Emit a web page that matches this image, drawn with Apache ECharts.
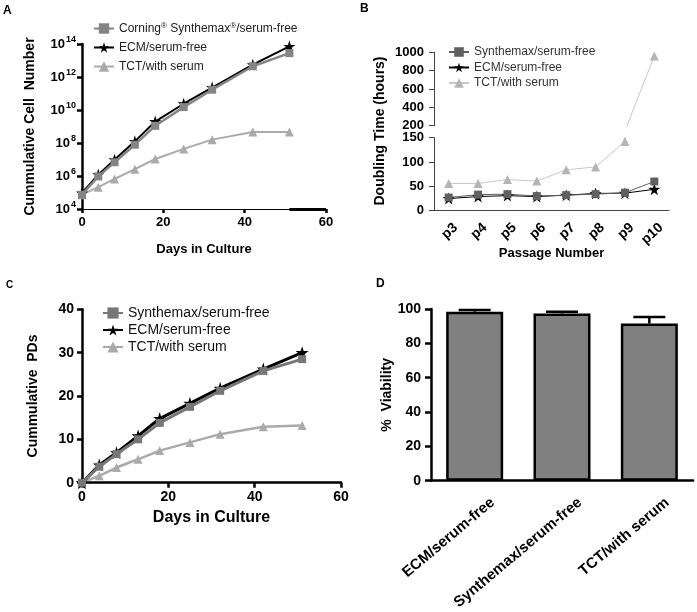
<!DOCTYPE html>
<html><head><meta charset="utf-8">
<script src="https://cdn.jsdelivr.net/npm/echarts@6/dist/echarts.min.js"></script>
<style>html,body{margin:0;padding:0;background:#fff}#c{width:697px;height:612px}</style>
</head><body><div id="c"></div>
<script>
// ---- Panel A: cumulative cell number (log scale) ----
const days = [0, 4, 8, 13, 18, 25, 32, 42, 51];
const cellsSynthemax = [7.4e4, 9.5e5, 6.8e6, 7.9e7, 1.1e9, 1.5e10, 1.7e11, 4.5e12, 2.8e13];
const cellsECM = [9.3e4, 1.2e6, 9.8e6, 1.26e8, 2.0e9, 2.4e10, 2.3e11, 5.6e12, 7.2e13];
const cellsTCT = [7.4e4, 2.1e5, 6.6e5, 2.6e6, 1.07e7, 4.4e7, 1.6e8, 4.7e8, 4.7e8];
// ---- Panel B: doubling time ----
const passages = ['p3', 'p4', 'p5', 'p6', 'p7', 'p8', 'p9', 'p10'];
const dtSynthemax = [27, 33, 34, 30, 32, 34, 37, 60];
const dtECM = [25, 29, 31, 29, 32, 35.5, 36, 44];
const dtTCT = [56, 56, 64, 61, 84, 90, 142, 960];
// ---- Panel C: cumulative population doublings ----
const pdSynthemax = [0, 3.7, 6.6, 10.0, 13.8, 17.5, 21.2, 25.8, 28.5];
const pdECM = [0, 4.1, 6.9, 10.8, 14.8, 18.3, 21.8, 26.2, 30.0];
const pdTCT = [0, 1.6, 3.5, 5.4, 7.4, 9.3, 11.2, 12.9, 13.2];
// ---- Panel D: viability ----
const viabCats = ['ECM/serum-free', 'Synthemax/serum-free', 'TCT/with serum'];
const viabMean = [98.4, 97.4, 91.5];
const viabErr = [1.0, 1.0, 3.8];

const FONT = 'Liberation Sans, Arial, Helvetica, sans-serif';
const STAR = 'path://M50,0 L61.2,34.5 L97.6,34.5 L68.2,55.9 L79.4,90.5 L50,69.1 L20.6,90.5 L31.8,55.9 L2.4,34.5 L38.8,34.5 Z';
const pair = (xs, ys) => xs.map((x, i) => [x, ys[i]]);
const strip = n => n.split('|')[1];

const chart = echarts.init(document.getElementById('c'), null, {renderer: 'canvas'});

const boldLbl = (size) => ({color: '#000', fontWeight: 'bold', fontSize: size, fontFamily: FONT});
const plain = v => String(v);
const G = (o) => Object.assign({outerBoundsMode: 'none', containLabel: false}, o);

const option = {
  backgroundColor: '#fff',
  animation: false,
  textStyle: {fontFamily: FONT},
  grid: [
    G({left: 82, top: 44, width: 244, height: 165}),          // 0 A
    G({left: 434, top: 52.3, width: 235, height: 73.4}),      // 1 B top
    G({left: 434, top: 137.7, width: 235, height: 73}),       // 2 B bottom
    G({left: 82, top: 309.3, width: 259, height: 173.4}),     // 3 C
    G({left: 431, top: 309, width: 262, height: 171.7}),      // 4 D
    G({left: 449, top: 309, width: 262, height: 171.7}),      // 5 D label layer
    G({left: 441, top: 137.7, width: 235, height: 73})        // 6 B label layer
  ],
  xAxis: [
    {gridIndex: 0, type: 'value', min: 0, max: 60, interval: 20,
      axisLine: {lineStyle: {color: '#000', width: 1}},
      axisTick: {length: 4, lineStyle: {color: '#000', width: 2.5}},
      axisLabel: Object.assign(boldLbl(13), {margin: 7}),
      splitLine: {show: false},
      name: 'Days in Culture', nameLocation: 'middle', nameGap: 34,
      nameTextStyle: boldLbl(13)},
    {gridIndex: 1, type: 'category', data: passages, show: false},
    {gridIndex: 2, type: 'category', data: passages, boundaryGap: true,
      axisLine: {lineStyle: {color: '#444', width: 1}},
      axisTick: {alignWithLabel: true, length: 5, lineStyle: {color: '#444'}},
      axisLabel: {show: false},
      name: 'Passage Number', nameLocation: 'middle', nameGap: 36,
      nameTextStyle: boldLbl(13)},
    {gridIndex: 3, type: 'value', min: 0, max: 60, interval: 20,
      axisLine: {lineStyle: {color: '#000', width: 2.5}},
      axisTick: {length: 5, lineStyle: {color: '#000', width: 2.5}},
      axisLabel: Object.assign(boldLbl(14), {margin: 7}),
      splitLine: {show: false},
      name: 'Days in Culture', nameLocation: 'middle', nameGap: 27,
      nameTextStyle: boldLbl(16)},
    {gridIndex: 4, type: 'category', data: viabCats, boundaryGap: true,
      axisLine: {lineStyle: {color: '#000', width: 2.5}},
      axisTick: {alignWithLabel: true, length: 6, lineStyle: {color: '#000', width: 2.5}},
      axisLabel: {show: false}},
    {gridIndex: 5, type: 'category', data: viabCats, boundaryGap: true,
      axisLine: {show: false}, axisTick: {show: false},
      axisLabel: Object.assign(boldLbl(15), {rotate: 40, margin: 20, interval: 0})},
    {gridIndex: 6, type: 'category', data: passages, boundaryGap: true,
      axisLine: {show: false}, axisTick: {show: false},
      axisLabel: Object.assign(boldLbl(14), {rotate: 42, margin: 15, interval: 0})}
  ],
  yAxis: [
    {gridIndex: 0, type: 'log', logBase: 100, min: 1e4, max: 1e14,
      axisLine: {show: true, lineStyle: {color: '#000', width: 2.5}},
      axisTick: {show: true, length: 5, lineStyle: {color: '#000', width: 2.5}},
      splitLine: {show: false}, minorTick: {show: false},
      axisLabel: {margin: 6, formatter: v => '{b|10}{s|' + Math.round(Math.log10(v)) + '}',
        rich: {b: boldLbl(13), s: Object.assign(boldLbl(9), {padding: [0, 0, 8, 1]})}},
      name: 'Cummulative Cell  Number', nameLocation: 'middle', nameGap: 45,
      nameTextStyle: boldLbl(14)},
    {gridIndex: 1, type: 'value', min: 200, max: 1000, interval: 200,
      axisLine: {show: true, lineStyle: {color: '#444', width: 1}},
      axisTick: {show: true, length: 5, lineStyle: {color: '#444'}},
      splitLine: {show: false},
      axisLabel: Object.assign(boldLbl(13), {margin: 10, formatter: plain})},
    {gridIndex: 2, type: 'value', min: 0, max: 150, interval: 50,
      axisLine: {show: true, lineStyle: {color: '#444', width: 1}},
      axisTick: {show: true, length: 5, lineStyle: {color: '#444'}},
      splitLine: {show: false},
      axisLabel: Object.assign(boldLbl(13), {margin: 10, formatter: plain})},
    {gridIndex: 3, type: 'value', min: 0, max: 40, interval: 10,
      axisLine: {show: true, lineStyle: {color: '#000', width: 2.5}},
      axisTick: {show: true, length: 5, lineStyle: {color: '#000', width: 2.5}},
      splitLine: {show: false},
      axisLabel: Object.assign(boldLbl(14), {margin: 8}),
      name: 'Cummulative  PDs', nameLocation: 'middle', nameGap: 42,
      nameTextStyle: boldLbl(14)},
    {gridIndex: 4, type: 'value', min: 0, max: 100, interval: 20,
      axisLine: {show: true, lineStyle: {color: '#000', width: 2.5}},
      axisTick: {show: true, length: 6, lineStyle: {color: '#000', width: 2.5}},
      splitLine: {show: false},
      axisLabel: Object.assign(boldLbl(14), {margin: 10}),
      name: '%  Viability', nameLocation: 'middle', nameGap: 23,
      nameTextStyle: boldLbl(14)},
    {gridIndex: 5, type: 'value', min: 0, max: 1, show: false},
    {gridIndex: 6, type: 'value', min: 0, max: 1, show: false}
  ],
  legend: [
    {orient: 'vertical', left: 88, top: 17, itemWidth: 20, itemHeight: 13, itemGap: 7,
      data: ['A|Corning® Synthemax®/serum-free', 'A|ECM/serum-free', 'A|TCT/with serum'],
      formatter: n => strip(n).replace(/®/g, '{s|®}'),
      textStyle: {fontSize: 12, color: '#222', fontFamily: FONT,
        rich: {s: {fontSize: 8, color: '#222', padding: [0, 0, 5, 0]}}}},
    {orient: 'vertical', left: 443, top: 41, itemWidth: 20, itemHeight: 12, itemGap: 3.5,
      data: ['B|Synthemax/serum-free', 'B|ECM/serum-free', 'B|TCT/with serum'],
      formatter: strip, textStyle: {fontSize: 12, color: '#333', fontFamily: FONT}},
    {orient: 'vertical', left: 97, top: 301, itemWidth: 20, itemHeight: 14, itemGap: 3,
      data: ['C|Synthemax/serum-free', 'C|ECM/serum-free', 'C|TCT/with serum'],
      formatter: strip, textStyle: {fontSize: 14, color: '#111', fontFamily: FONT}}
  ],
  series: [
    // A
    {name: 'A|ECM/serum-free', type: 'line', xAxisIndex: 0, yAxisIndex: 0, data: pair(days, cellsECM),
      symbol: STAR, symbolSize: 12, color: '#000', lineStyle: {width: 2, color: '#000'}, z: 3,
      markLine: {silent: true, symbol: 'none', label: {show: false},
        lineStyle: {color: '#000', width: 3, type: 'solid'},
        data: [[{coord: [days[days.length - 1], 1e4]}, {coord: [60, 1e4]}]]}},
    {name: 'A|Corning® Synthemax®/serum-free', type: 'line', xAxisIndex: 0, yAxisIndex: 0, data: pair(days, cellsSynthemax),
      symbol: 'rect', symbolSize: 8, color: '#858585', lineStyle: {width: 2.5, color: '#858585'}, z: 4},
    {name: 'A|TCT/with serum', type: 'line', xAxisIndex: 0, yAxisIndex: 0, data: pair(days, cellsTCT),
      symbol: 'triangle', symbolSize: 9, color: '#aaaaaa', lineStyle: {width: 2, color: '#aaaaaa'}, z: 2},
    // B top
    {name: 'B|TCT/with serum', type: 'line', xAxisIndex: 1, yAxisIndex: 1, data: dtTCT, clip: true,
      symbol: 'triangle', symbolSize: 9, color: '#b4b4b4', lineStyle: {width: 1, color: '#c8c8c8'}},
    // B bottom
    {name: 'B|TCT/with serum', type: 'line', xAxisIndex: 2, yAxisIndex: 2, data: dtTCT, clip: true,
      symbol: 'triangle', symbolSize: 9, color: '#b4b4b4', lineStyle: {width: 1, color: '#c8c8c8'}},
    {name: 'B|ECM/serum-free', type: 'line', xAxisIndex: 2, yAxisIndex: 2, data: dtECM, clip: true,
      symbol: STAR, symbolSize: 12, color: '#000', lineStyle: {width: 1, color: '#000'}},
    {name: 'B|Synthemax/serum-free', type: 'line', xAxisIndex: 2, yAxisIndex: 2, data: dtSynthemax, clip: true,
      symbol: 'rect', symbolSize: 8, color: '#606060', lineStyle: {width: 1, color: '#606060'}},
    // C
    {name: 'C|ECM/serum-free', type: 'line', xAxisIndex: 3, yAxisIndex: 3, data: pair(days, pdECM),
      symbol: STAR, symbolSize: 13, color: '#000', lineStyle: {width: 3, color: '#000'}, z: 3},
    {name: 'C|Synthemax/serum-free', type: 'line', xAxisIndex: 3, yAxisIndex: 3, data: pair(days, pdSynthemax),
      symbol: 'rect', symbolSize: 8, color: '#777777', lineStyle: {width: 3, color: '#777777'}, z: 4},
    {name: 'C|TCT/with serum', type: 'line', xAxisIndex: 3, yAxisIndex: 3, data: pair(days, pdTCT),
      symbol: 'triangle', symbolSize: 9, color: '#aaaaaa', lineStyle: {width: 2.5, color: '#aaaaaa'}, z: 2},
    // D
    {name: 'D|viability', type: 'bar', xAxisIndex: 4, yAxisIndex: 4, data: viabMean, barWidth: 57,
      itemStyle: {color: '#808080', borderColor: '#000', borderWidth: 2.5}},
    {name: 'D|err', type: 'custom', xAxisIndex: 4, yAxisIndex: 4, z: 5,
      data: viabMean.map((m, i) => [i, m, viabErr[i]]),
      renderItem: (params, api) => {
        const i = api.value(0), m = api.value(1), e = api.value(2);
        const p0 = api.coord([i, m]), p1 = api.coord([i, m + e]);
        const hw = 16;
        return {type: 'group', children: [
          {type: 'line', shape: {x1: p0[0], y1: p0[1], x2: p1[0], y2: p1[1]}, style: {stroke: '#000', lineWidth: 2.5}},
          {type: 'line', shape: {x1: p1[0] - hw, y1: p1[1], x2: p1[0] + hw, y2: p1[1]}, style: {stroke: '#000', lineWidth: 2.5}}
        ]};
      }}
  ],
  graphic: [
    {type: 'text', left: 3, top: 5, style: {text: 'A', font: 'bold 12px ' + FONT, fill: '#000'}},
    {type: 'text', left: 360, top: 3, style: {text: 'B', font: 'bold 12px ' + FONT, fill: '#000'}},
    {type: 'text', left: 6, top: 280, style: {text: 'C', font: 'bold 10px ' + FONT, fill: '#000'}},
    {type: 'text', left: 376, top: 278, style: {text: 'D', font: 'bold 12px ' + FONT, fill: '#000'}},
    {type: 'text', x: 380, y: 131, rotation: Math.PI / 2,
      style: {text: 'Doubling Time (hours)', font: 'bold 14px ' + FONT, fill: '#000', align: 'center', verticalAlign: 'middle'}}
  ]
};
chart.setOption(option);
</script></body></html>
